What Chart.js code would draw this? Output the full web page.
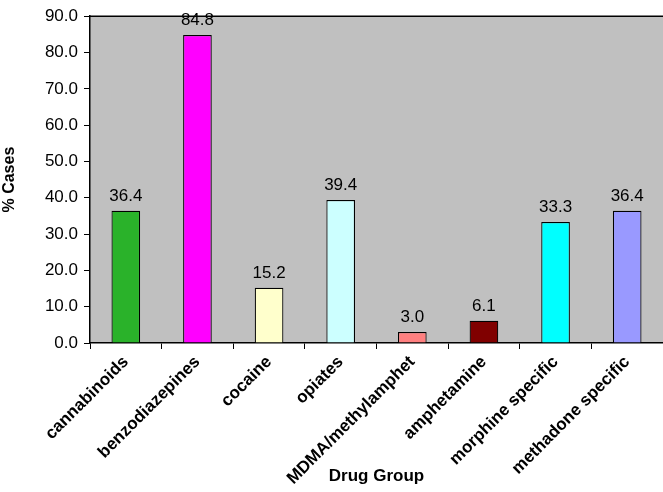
<!DOCTYPE html>
<html>
<head>
<meta charset="utf-8">
<script src="https://cdn.jsdelivr.net/npm/chart.js@4/dist/chart.umd.min.js"></script>
<style>
  html, body { margin: 0; padding: 0; background: #fff; }
  #drugChart { display: block; }
</style>
</head>
<body>
<canvas id="drugChart" width="663" height="492"></canvas>
<script>
const drugGroups = [
  'cannabinoids',
  'benzodiazepines',
  'cocaine',
  'opiates',
  'MDMA/methylamphet',
  'amphetamine',
  'morphine specific',
  'methadone specific'
];
const percentCases = [36.4, 84.8, 15.2, 39.4, 3.0, 6.1, 33.3, 36.4];
const barColors = [
  '#2ab22a',
  '#ff00ff',
  '#ffffcc',
  '#ccffff',
  '#ff8080',
  '#800000',
  '#00ffff',
  '#9999ff'
];

const fontFamily = '"Liberation Sans", Arial, sans-serif';
const ctx = document.getElementById('drugChart').getContext('2d');

// grey plot background with a dark frame line along the top
const plotBackground = {
  id: 'plotBackground',
  beforeDraw(chart) {
    const { ctx, chartArea: a } = chart;
    ctx.save();
    ctx.fillStyle = '#c0c0c0';
    ctx.fillRect(a.left, a.top, a.right - a.left, a.bottom - a.top);
    ctx.strokeStyle = '#000';
    ctx.lineWidth = 1.5;
    ctx.beginPath();
    ctx.moveTo(a.left, a.top);
    ctx.lineTo(a.right, a.top);
    ctx.stroke();
    ctx.restore();
  }
};

// value printed above every bar
const barValues = {
  id: 'barValues',
  afterDatasetsDraw(chart) {
    const { ctx } = chart;
    const meta = chart.getDatasetMeta(0);
    ctx.save();
    ctx.font = '17px ' + fontFamily;
    ctx.fillStyle = '#000';
    ctx.textAlign = 'center';
    ctx.textBaseline = 'alphabetic';
    meta.data.forEach((bar, i) => {
      ctx.fillText(percentCases[i].toFixed(1), bar.x, bar.y - 10);
    });
    ctx.restore();
  }
};

const myChart = new Chart(ctx, {
  type: 'bar',
  data: {
    labels: drugGroups,
    datasets: [
      {
        data: percentCases,
        backgroundColor: barColors,
        borderColor: '#000',
        borderWidth: 1.2,
        barPercentage: 0.4,
        categoryPercentage: 1.0
      }
    ]
  },
  options: {
    responsive: false,
    animation: false,
    layout: { padding: { top: 16, right: 0, left: 0, bottom: 0 } },
    plugins: {
      legend: { display: false },
      tooltip: { enabled: false }
    },
    scales: {
      x: {
        grid: {
          drawOnChartArea: false,
          drawTicks: true,
          tickLength: 6,
          color: '#000',
          offset: true
        },
        border: { color: '#000', width: 1.5 },
        ticks: {
          color: '#000',
          autoSkip: false,
          minRotation: 45,
          maxRotation: 45,
          padding: 3,
          font: { family: fontFamily, size: 17, weight: 'bold' }
        },
        title: {
          display: true,
          text: 'Drug Group',
          color: '#000',
          padding: { top: 2, bottom: 5 },
          font: { family: fontFamily, size: 17, weight: 'bold' }
        },
        afterFit(scale) {
          scale.height = 149;
        }
      },
      y: {
        min: 0,
        max: 90,
        grid: {
          drawOnChartArea: false,
          drawTicks: true,
          tickLength: 6,
          color: '#000'
        },
        border: { color: '#000', width: 1.5 },
        ticks: {
          stepSize: 10,
          color: '#000',
          padding: 6,
          font: { family: fontFamily, size: 17 },
          callback: (v) => Number(v).toFixed(1)
        },
        title: {
          display: true,
          text: '% Cases',
          color: '#000',
          padding: { top: 0, bottom: 0 },
          font: { family: fontFamily, size: 16, weight: 'bold' }
        },
        afterFit(scale) {
          scale.width = 90;
        }
      }
    }
  },
  plugins: [plotBackground, barValues]
});
</script>
</body>
</html>
